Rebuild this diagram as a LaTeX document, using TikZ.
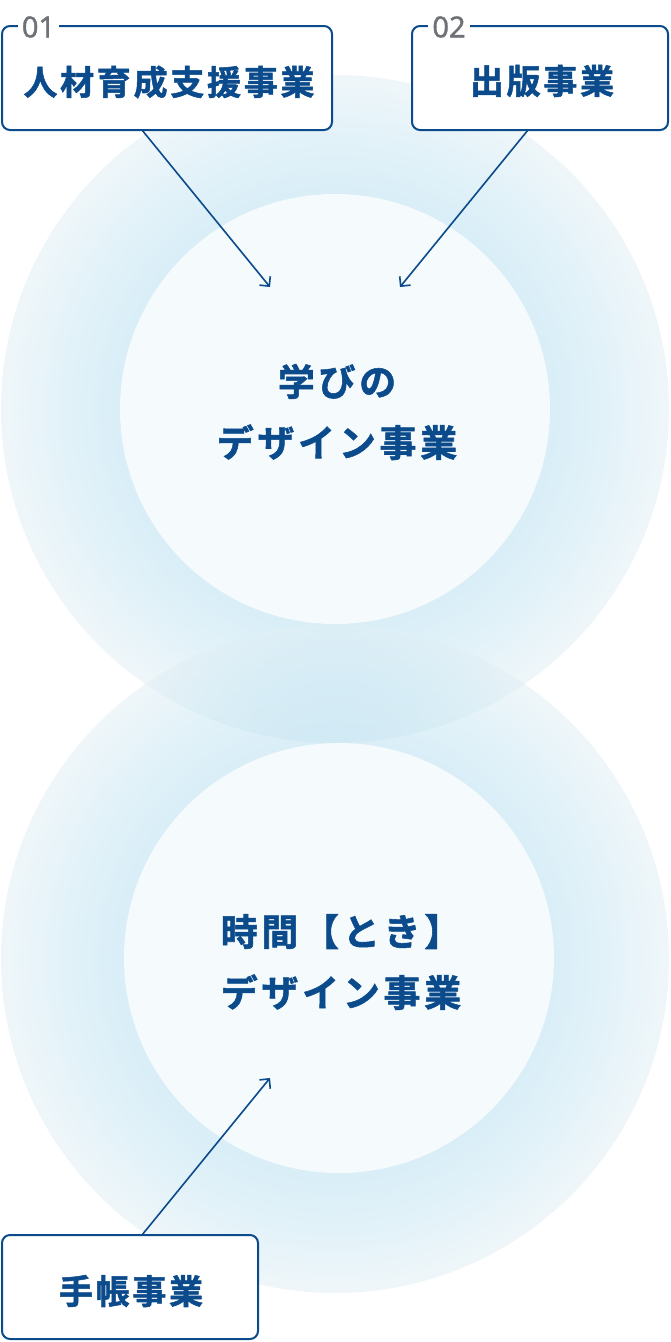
\documentclass[tikz,border=0pt]{standalone}
\usepackage{fontspec}
\usetikzlibrary{arrows.meta}
\newfontfamily\jpbox{Noto Sans CJK JP Bold}[LetterSpace=8,FakeBold=1.5]
\newfontfamily\jpcore{Noto Sans CJK JP Bold}[LetterSpace=10,FakeBold=1.5]
\newfontfamily\numfont{Noto Sans}[FakeBold=1.2]
\definecolor{navy}{RGB}{11,75,140}
\definecolor{numgray}{RGB}{110,114,118}
\definecolor{ringin}{RGB}{180,222,241}
\definecolor{ringmid}{RGB}{200,231,244}
\definecolor{ringout}{RGB}{225,239,245}
\definecolor{core}{RGB}{245,250,253}
\pgfdeclareradialshading{ringshade}{\pgfpoint{0bp}{0bp}}{color(0bp)=(ringin); color(16bp)=(ringin); color(20.5bp)=(ringmid); color(25bp)=(ringout); color(50bp)=(ringout)}
\begin{document}
\begin{tikzpicture}[x=1pt,y=-1pt,
  bizbox/.style={draw=navy, line width=2pt, rounded corners=8pt, fill=white, inner sep=0pt, minimum height=104pt},
  boxtext/.style={text=navy, inner sep=0pt, font=\jpbox\fontsize{34}{40}\selectfont},
  numlabel/.style={text=numgray, fill=white, inner xsep=4pt, inner ysep=0pt, font=\numfont\fontsize{29}{32}\selectfont},
  corecircle/.style={circle, fill=core, minimum size=430pt, inner sep=0pt},
  coretext/.style={text=navy, inner sep=0pt, align=center, font=\jpcore\fontsize{37}{61}\selectfont},
  conn/.style={draw=navy, line width=1.6pt, -{Straight Barb[length=7pt,width=14pt]}}
]
\useasboundingbox (0,0) rectangle (670,1342);
\fill[white] (0,0) rectangle (670,1342);
% rings
\shade[shading=ringshade, opacity=0.5] (335,409) circle [radius=334];
\shade[shading=ringshade, opacity=0.5] (335,959) circle [radius=334];
% cores
\node[corecircle] (core1) at (335,409) {};
\node[corecircle] (core2) at (339,958) {};
\node[coretext] (t1) at (337,412) {学びの\\デザイン事業};
\node[coretext] (t2) at (341,962) {時間【とき】\\デザイン事業};
% boxes
\node[bizbox, minimum width=330pt] (box1) at (167,78) {};
\node[boxtext] (b1t) at (169,82) {人材育成支援事業};
\node[numlabel] (n1) at (38.5,27) {01};
\node[bizbox, minimum width=256pt] (box2) at (540,78) {};
\node[boxtext] (b2t) at (542,81) {出版事業};
\node[numlabel] (n2) at (449,27) {02};
\node[bizbox, minimum width=256pt] (box3) at (130,1287) {};
\node[boxtext] (b3t) at (131,1291) {手帳事業};
% connectors
\coordinate (s1) at (142,130);
\coordinate (e1) at (270,287);
\coordinate (s2) at (528,130);
\coordinate (e2) at (400,287);
\coordinate (s3) at (142,1235);
\coordinate (e3) at (270,1078);
\draw[conn] (s1) -- (e1);
\draw[conn] (s2) -- (e2);
\draw[conn] (s3) -- (e3);
\end{tikzpicture}
\end{document}
